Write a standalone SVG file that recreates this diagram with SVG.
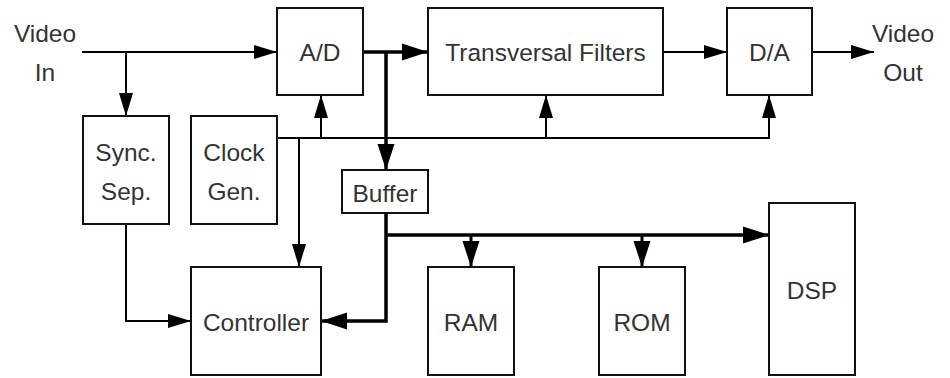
<svg xmlns="http://www.w3.org/2000/svg" width="950" height="378" viewBox="0 0 950 378">
<style>
  .box { fill: #ffffff; stroke: #111111; stroke-width: 2; }
  .lbl { font-family: "Liberation Sans", Arial, sans-serif; font-size: 24.5px; fill: #333333; text-anchor: middle; }
  .thin { fill: none; stroke: #000000; stroke-width: 2; }
  .thick { fill: none; stroke: #000000; stroke-width: 3.5; }
  .stem { fill: none; stroke: #000000; stroke-width: 3; }
</style>
<defs>
  <marker id="arr" markerUnits="userSpaceOnUse" markerWidth="24" markerHeight="14" refX="23" refY="7" orient="auto" overflow="visible">
    <path d="M0,0 L23,7 L0,14 z" fill="#000"/>
  </marker>
  <marker id="arrT" markerUnits="userSpaceOnUse" markerWidth="27" markerHeight="17" refX="26" refY="8.5" orient="auto" overflow="visible">
    <path d="M0,0 L26,8.5 L0,17 z" fill="#000"/>
  </marker>
</defs>
<rect width="950" height="378" fill="#ffffff"/>

<g id="connectors">
  <path class="thin" d="M82,52 H277" marker-end="url(#arr)"/>
  <path class="thin" d="M126,52 V116" marker-end="url(#arr)"/>
  <path class="thin" d="M277,138 H769 V95" marker-end="url(#arr)"/>
  <path class="thin" d="M321,138 V95" marker-end="url(#arr)"/>
  <path class="thin" d="M546,138 V95" marker-end="url(#arr)"/>
  <path class="thin" d="M299,138 V267" marker-end="url(#arr)"/>
  <path class="thin" d="M126,224 V321 H191" marker-end="url(#arr)"/>
  <path class="thin" d="M663,52 H727" marker-end="url(#arr)"/>
  <path class="thin" d="M812,52 H874" marker-end="url(#arr)"/>
  <path class="thick" d="M363,52 H428" marker-end="url(#arrT)"/>
  <path class="thick" d="M386,52 V170" marker-end="url(#arrT)"/>
  <path class="thick" d="M386,213 V321 H321" marker-end="url(#arrT)"/>
  <path class="thick" d="M386,235 H769" marker-end="url(#arrT)"/>
  <path class="stem" d="M471,235 V267" marker-end="url(#arrT)"/>
  <path class="stem" d="M642,235 V267" marker-end="url(#arrT)"/>
</g>

<g id="video-in">
  <text class="lbl" x="45" y="42">Video</text>
  <text class="lbl" x="45" y="81">In</text>
</g>
<g id="video-out">
  <text class="lbl" x="903" y="42">Video</text>
  <text class="lbl" x="903" y="81">Out</text>
</g>
<g id="ad">
  <rect class="box" x="277" y="8" width="86" height="87"/>
  <text class="lbl" x="320" y="61">A/D</text>
</g>
<g id="transversal">
  <rect class="box" x="428" y="8" width="235" height="87"/>
  <text class="lbl" x="545.5" y="61">Transversal Filters</text>
</g>
<g id="da">
  <rect class="box" x="727" y="8" width="85" height="87"/>
  <text class="lbl" x="769.5" y="61">D/A</text>
</g>
<g id="sync">
  <rect class="box" x="83" y="116" width="86" height="108"/>
  <text class="lbl" x="126" y="161">Sync.</text>
  <text class="lbl" x="126" y="199.5">Sep.</text>
</g>
<g id="clock">
  <rect class="box" x="191" y="116" width="86" height="108"/>
  <text class="lbl" x="234" y="161">Clock</text>
  <text class="lbl" x="234" y="199.5">Gen.</text>
</g>
<g id="buffer">
  <rect class="box" x="342" y="170" width="86" height="43"/>
  <text class="lbl" x="385" y="202">Buffer</text>
</g>
<g id="controller">
  <rect class="box" x="191" y="267" width="130" height="108"/>
  <text class="lbl" x="256" y="330.5">Controller</text>
</g>
<g id="ram">
  <rect class="box" x="428" y="267" width="86" height="108"/>
  <text class="lbl" x="471" y="330.5">RAM</text>
</g>
<g id="rom">
  <rect class="box" x="599" y="267" width="86" height="108"/>
  <text class="lbl" x="642" y="330.5">ROM</text>
</g>
<g id="dsp">
  <rect class="box" x="769" y="203" width="86" height="172"/>
  <text class="lbl" x="812" y="299">DSP</text>
</g>
</svg>
